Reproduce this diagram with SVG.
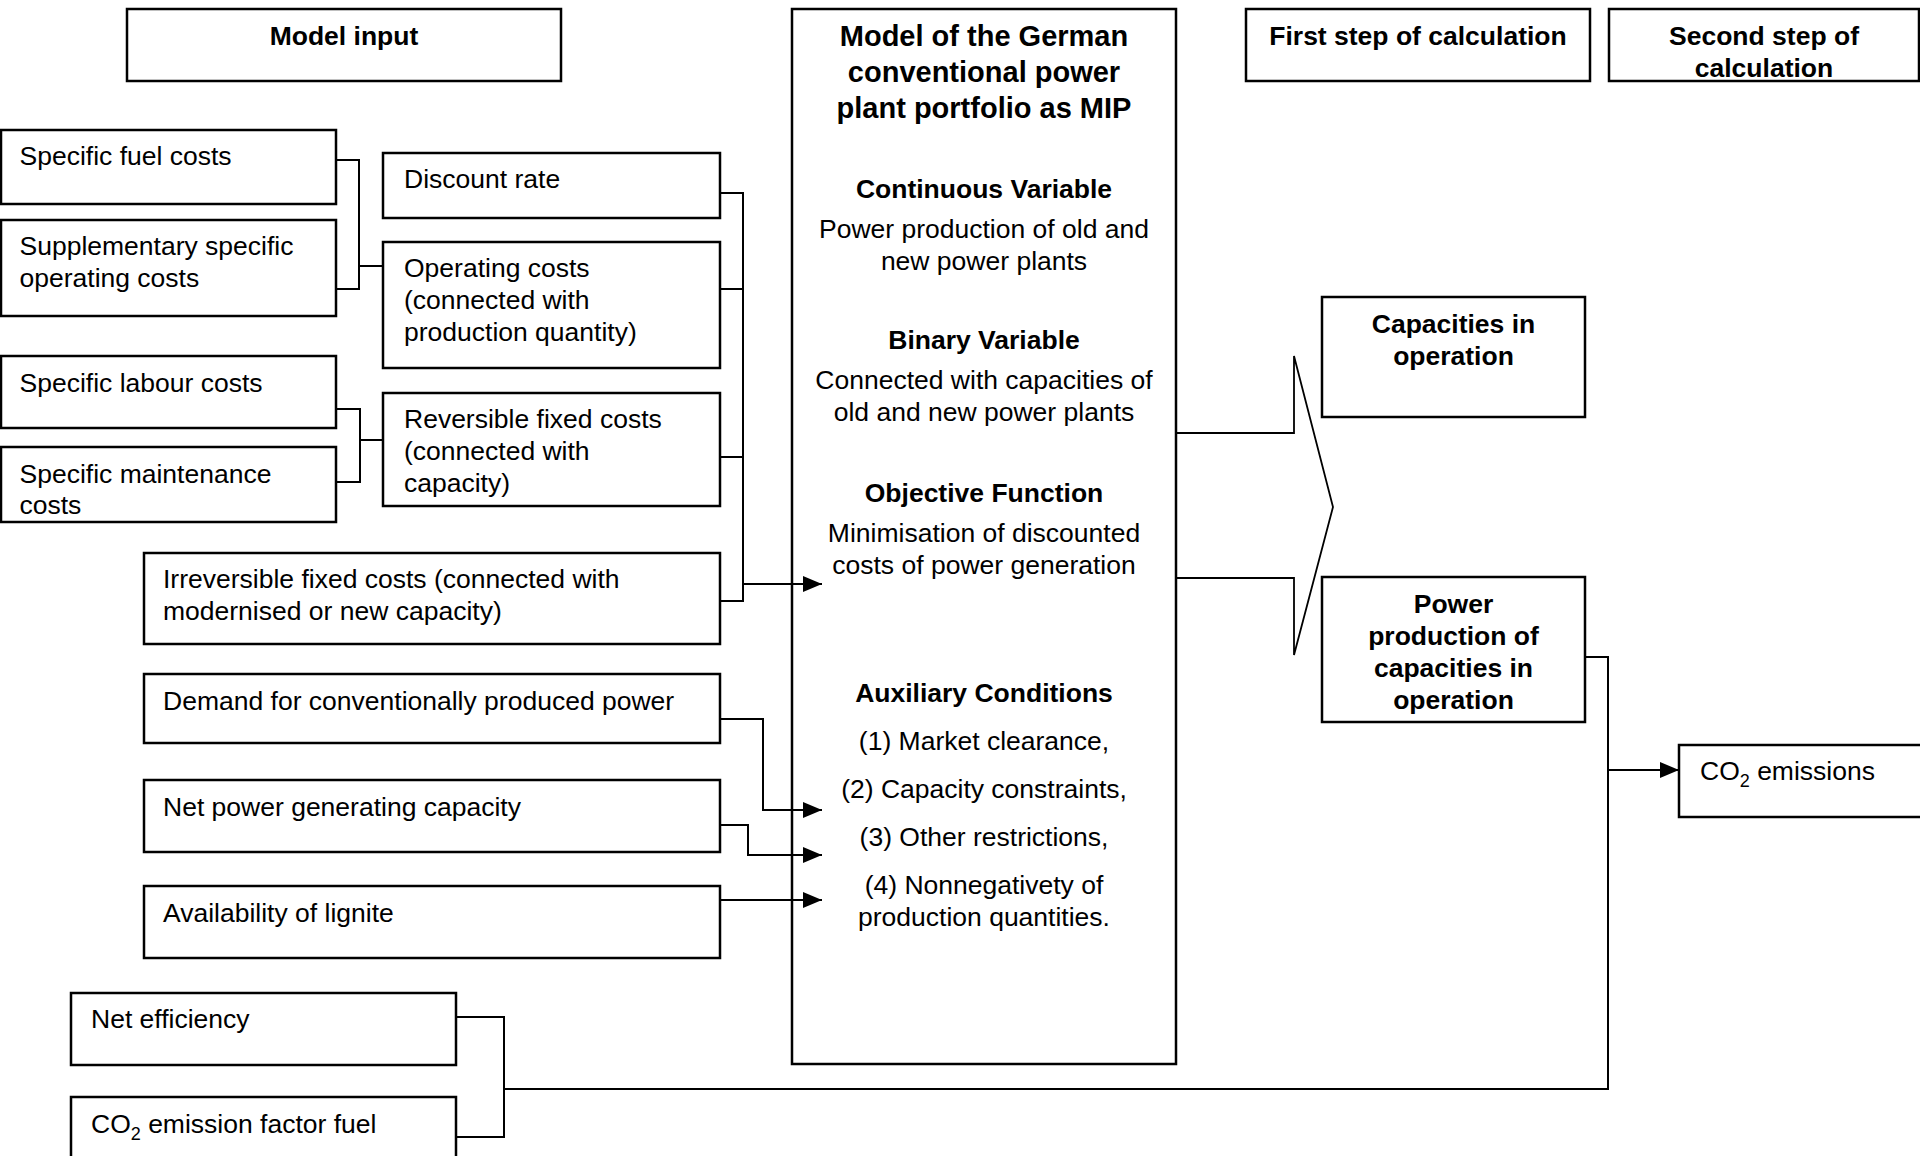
<svg xmlns="http://www.w3.org/2000/svg" width="1920" height="1156" viewBox="0 0 1920 1156">
<style>
.box{fill:#fff;stroke:#000;stroke-width:2.5}
.t{font-family:"Liberation Sans",Arial,sans-serif;font-size:26.5px;fill:#000}
.b{font-weight:bold}
.c{text-anchor:middle}
.ttl{font-size:29px}
.ln{fill:none;stroke:#000;stroke-width:2}
.sub{font-size:18px}
</style>
<defs>
<marker id="ah" viewBox="0 0 19 16" refX="19" refY="8" markerWidth="19" markerHeight="16" markerUnits="userSpaceOnUse" orient="auto">
<path d="M0,0 L19,8 L0,16 z" fill="#000"/>
</marker>
</defs>
<rect width="1920" height="1156" fill="#fff"/>

<g id="model-input"><rect class="box" x="127" y="9" width="434" height="72"/><text class="t b c" x="344" y="45">Model input</text></g>
<g id="fuel-costs"><rect class="box" x="1" y="130" width="335" height="74"/><text class="t" x="19.5" y="165">Specific fuel costs</text></g>
<g id="supp-costs"><rect class="box" x="1" y="220" width="335" height="96"/><text class="t" x="19.5" y="255">Supplementary specific</text><text class="t" x="19.5" y="287">operating costs</text></g>
<g id="discount-rate"><rect class="box" x="383" y="153" width="337" height="65"/><text class="t" x="404" y="188">Discount rate</text></g>
<g id="operating-costs"><rect class="box" x="383" y="242" width="337" height="126"/><text class="t" x="404" y="277">Operating costs</text><text class="t" x="404" y="309">(connected with</text><text class="t" x="404" y="341">production quantity)</text></g>
<g id="labour-costs"><rect class="box" x="1" y="356" width="335" height="72"/><text class="t" x="19.5" y="392">Specific labour costs</text></g>
<g id="maintenance-costs"><rect class="box" x="1" y="447" width="335" height="75"/><text class="t" x="19.5" y="483">Specific maintenance</text><text class="t" x="19.5" y="514">costs</text></g>
<g id="reversible-costs"><rect class="box" x="383" y="393" width="337" height="113"/><text class="t" x="404" y="428">Reversible fixed costs</text><text class="t" x="404" y="460">(connected with</text><text class="t" x="404" y="492">capacity)</text></g>
<g id="irreversible-costs"><rect class="box" x="144" y="553" width="576" height="91"/><text class="t" x="163" y="588">Irreversible fixed costs (connected with</text><text class="t" x="163" y="620">modernised or new capacity)</text></g>
<g id="demand"><rect class="box" x="144" y="674" width="576" height="69"/><text class="t" x="163" y="710">Demand for conventionally produced power</text></g>
<g id="net-capacity"><rect class="box" x="144" y="780" width="576" height="72"/><text class="t" x="163" y="816">Net power generating capacity</text></g>
<g id="lignite"><rect class="box" x="144" y="886" width="576" height="72"/><text class="t" x="163" y="922">Availability of lignite</text></g>
<g id="net-efficiency"><rect class="box" x="71" y="993" width="385" height="72"/><text class="t" x="91" y="1028">Net efficiency</text></g>
<g id="co2-factor"><rect class="box" x="71" y="1097" width="385" height="70"/><text class="t" x="91" y="1133">CO<tspan class="sub" dy="7">2</tspan><tspan dy="-7"> emission factor fuel</tspan></text></g>

<g id="model">
<rect class="box" x="792" y="9" width="384" height="1055"/>
<text class="t b c ttl" x="984" y="46">Model of the German</text>
<text class="t b c ttl" x="984" y="82">conventional power</text>
<text class="t b c ttl" x="984" y="118">plant portfolio as MIP</text>
<text class="t b c" x="984" y="198">Continuous Variable</text>
<text class="t c" x="984" y="238">Power production of old and</text>
<text class="t c" x="984" y="270">new power plants</text>
<text class="t b c" x="984" y="349">Binary Variable</text>
<text class="t c" x="984" y="389">Connected with capacities of</text>
<text class="t c" x="984" y="421">old and new power plants</text>
<text class="t b c" x="984" y="502">Objective Function</text>
<text class="t c" x="984" y="542">Minimisation of discounted</text>
<text class="t c" x="984" y="574">costs of power generation</text>
<text class="t b c" x="984" y="702">Auxiliary Conditions</text>
<text class="t c" x="984" y="750">(1) Market clearance,</text>
<text class="t c" x="984" y="798">(2) Capacity constraints,</text>
<text class="t c" x="984" y="846">(3) Other restrictions,</text>
<text class="t c" x="984" y="894">(4) Nonnegativety of</text>
<text class="t c" x="984" y="926">production quantities.</text>
</g>

<g id="first-step"><rect class="box" x="1246" y="9" width="344" height="72"/><text class="t b c" x="1418" y="45">First step of calculation</text></g>
<g id="second-step"><rect class="box" x="1609" y="9" width="310" height="72"/><text class="t b c" x="1764" y="45">Second step of</text><text class="t b c" x="1764" y="77">calculation</text></g>
<g id="capacities"><rect class="box" x="1322" y="297" width="263" height="120"/><text class="t b c" x="1453.5" y="333">Capacities in</text><text class="t b c" x="1453.5" y="365">operation</text></g>
<g id="power-production"><rect class="box" x="1322" y="577" width="263" height="145"/><text class="t b c" x="1453.5" y="613">Power</text><text class="t b c" x="1453.5" y="645">production of</text><text class="t b c" x="1453.5" y="677">capacities in</text><text class="t b c" x="1453.5" y="709">operation</text></g>
<g id="co2-emissions"><rect class="box" x="1679" y="745" width="250" height="72"/><text class="t" x="1700" y="780">CO<tspan class="sub" dy="7">2</tspan><tspan dy="-7"> emissions</tspan></text></g>

<g id="connectors">
<path class="ln" d="M336,160 H359 V289 H336 M359,266 H383"/>
<path class="ln" d="M336,409 H360 V482 H336 M360,440 H383"/>
<path class="ln" d="M720,193 H743 V601 H720 M720,289 H743 M720,457 H743"/>
<path class="ln" d="M743,584 H822" marker-end="url(#ah)"/>
<path class="ln" d="M720,719 H763 V810 H822" marker-end="url(#ah)"/>
<path class="ln" d="M720,825 H748 V855 H822" marker-end="url(#ah)"/>
<path class="ln" d="M720,900 H822" marker-end="url(#ah)"/>
<path class="ln" d="M456,1017 H504 V1137 H456 M504,1089 H1608 V657 H1585"/>
<path class="ln" d="M1608,770 H1679" marker-end="url(#ah)"/>
<path class="ln" style="stroke-width:1.8" d="M1176,433 H1294 V356 L1333,507 L1294,655 V578 H1176"/>
</g>
</svg>
